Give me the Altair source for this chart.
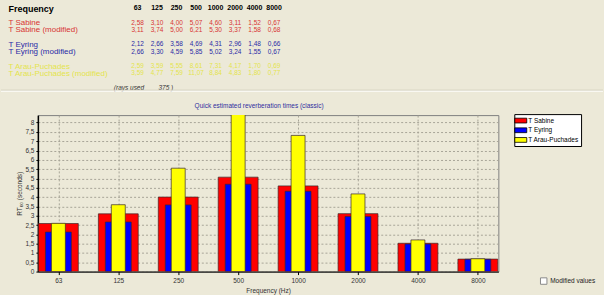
import altair as alt
import pandas as pd

# Octave-band centre frequencies (Hz)
FREQS = ["63", "125", "250", "500", "1000", "2000", "4000", "8000"]

# Reverberation times in seconds
T_SABINE = [2.58, 3.10, 4.00, 5.07, 4.60, 3.11, 1.52, 0.67]
T_SABINE_MOD = [3.11, 3.74, 5.00, 6.21, 5.30, 3.37, 1.58, 0.68]
T_EYRING = [2.12, 2.66, 3.58, 4.69, 4.31, 2.96, 1.48, 0.66]
T_EYRING_MOD = [2.66, 3.30, 4.59, 5.85, 5.02, 3.24, 1.55, 0.67]
T_ARAU = [2.59, 3.59, 5.55, 8.61, 7.31, 4.17, 1.70, 0.69]
T_ARAU_MOD = [3.59, 4.77, 7.59, 11.07, 8.84, 4.83, 1.80, 0.77]
RAYS_USED = 375

SERIES = ["T Sabine", "T Eyring", "T Arau-Puchades"]
SERIES_COLORS = ["#FF0000", "#0000FF", "#FFFF00"]
BAR_WIDTHS = [40, 26, 14]

FONT = "Liberation Sans"
BG = "#ECE9D8"
RED_TXT = "#D83434"
BLUE_TXT = "#2A2AA6"
YEL_TXT = "#E4E44C"
NBSP = "\u00a0"

# ---------------------------------------------------------------- table ----
# Row order of the summary table; whitespace-only entries are blank spacer rows
ROW_ORDER = [
    "Frequency", " ",
    "T Sabine", "T Sabine (modified)", "  ",
    "T Eyring", "T Eyring (modified)", "   ",
    "T Arau-Puchades", "T Arau-Puchades (modified)", "    ",
    "     ",
]
TABLE_ROWS = {
    "T Sabine": T_SABINE,
    "T Sabine (modified)": T_SABINE_MOD,
    "T Eyring": T_EYRING,
    "T Eyring (modified)": T_EYRING_MOD,
    "T Arau-Puchades": T_ARAU,
    "T Arau-Puchades (modified)": T_ARAU_MOD,
}
ROW_COLORS = [RED_TXT, RED_TXT, BLUE_TXT, BLUE_TXT, YEL_TXT, YEL_TXT]

table_df = pd.DataFrame(
    [{"row": r, "freq": f, "value": v}
     for r, vals in TABLE_ROWS.items() for f, v in zip(FREQS, vals)]
)
header_df = pd.DataFrame({"row": ["Frequency"] * len(FREQS), "freq": FREQS})
rays_df = pd.DataFrame({"row": ["     "], "freq": [FREQS[0]],
                        "txt": [f"(rays used{NBSP * 8}{RAYS_USED} )"]})

row_label_color = {
    "condition": [
        {"test": "indexof(datum.value, 'Sabine') >= 0", "value": RED_TXT},
        {"test": "indexof(datum.value, 'Eyring') >= 0", "value": BLUE_TXT},
        {"test": "indexof(datum.value, 'Arau') >= 0", "value": YEL_TXT},
    ],
    "value": "#000000",
}

# table columns sit to the right of the row-label column
t_x = alt.X("freq:N", sort=FREQS,
            scale=alt.Scale(type="point", domain=FREQS, range=[100, 237], padding=0),
            axis=None)
t_y = alt.Y(
    "row:N",
    scale=alt.Scale(type="point", domain=ROW_ORDER, padding=0.5),
    axis=alt.Axis(
        title=None, domain=False, ticks=False, grid=False,
        labelAlign="left", labelBaseline="middle", labelPadding=30,
        labelFont=FONT,
        labelFontSize={"condition": {"test": "datum.value === 'Frequency'", "value": 9},
                       "value": 8},
        labelFontWeight={"condition": {"test": "datum.value === 'Frequency'", "value": "bold"},
                         "value": "normal"},
        labelColor=row_label_color,
    ),
)

header_layer = alt.Chart(header_df).mark_text(
    font=FONT, fontSize=7, fontWeight="bold", color="#000000", baseline="middle"
).encode(x=t_x, y=t_y, text="freq:N")

values_layer = alt.Chart(table_df).transform_calculate(
    txt="replace(format(datum.value, '.2f'), '.', ',')"
).mark_text(font=FONT, fontSize=6.5, baseline="middle").encode(
    x=t_x, y=t_y, text="txt:N",
    color=alt.Color("row:N", scale=alt.Scale(domain=list(TABLE_ROWS), range=ROW_COLORS),
                    legend=None),
)

rays_layer = alt.Chart(rays_df).mark_text(
    font=FONT, fontSize=6.5, fontStyle="italic", color="#333333", baseline="middle", dx=6
).encode(x=t_x, y=t_y, text="txt:N")

# panel separator
sep_df = pd.DataFrame({"k": [0]})
sep_dark = alt.Chart(sep_df).mark_rule(color="#CFCBB8", strokeWidth=1).encode(
    x=alt.value(-37), x2=alt.value(567), y=alt.value(86))
sep_light = alt.Chart(sep_df).mark_rule(color="#FFFFFF", strokeWidth=1).encode(
    x=alt.value(-37), x2=alt.value(567), y=alt.value(87))

table = alt.layer(header_layer, values_layer, rays_layer, sep_dark, sep_light).properties(
    width=337, height=87.3, view=alt.ViewBackground(stroke="transparent")
)

# ---------------------------------------------------------------- bars -----
bars_df = pd.DataFrame({
    "freq": FREQS * 3,
    "series": [s for s in SERIES for _ in FREQS],
    "rt": T_SABINE + T_EYRING + T_ARAU,
})

GRID = "#A8A598"
b_x = alt.X(
    "freq:N", sort=FREQS,
    scale=alt.Scale(type="point", domain=FREQS, padding=0.342),
    axis=alt.Axis(
        title="Frequency (Hz)", labelAngle=0, grid=True, gridDash=[2, 2], gridColor=GRID,
        gridWidth=1, domainColor="#000000", domainWidth=1, tickColor="#000000",
        tickSize=3, labelPadding=3, labelFont=FONT, labelFontSize=6.5, labelColor="#333333",
        titleFont=FONT, titleFontSize=6.5, titleFontWeight="normal", titleColor="#333333",
        titlePadding=3,
    ),
)
b_y = alt.Y(
    "rt:Q", stack=None,
    scale=alt.Scale(domain=[0, 8.4], nice=False, zero=True),
    axis=alt.Axis(
        values=[i * 0.5 for i in range(17)], format="~g",
        labelExpr="replace(datum.label, '.', ',')",
        title="RT₆₀ (seconds)", grid=True, gridDash=[2, 2], gridColor=GRID, gridWidth=1,
        domainColor="#000000", domainWidth=1.5, tickColor="#000000", tickSize=2,
        labelPadding=2, labelFont=FONT, labelFontSize=6.5, labelColor="#333333",
        titleFont=FONT, titleFontSize=6.5, titleFontWeight="normal", titleColor="#333333",
        titlePadding=2,
    ),
)
b_color = alt.Color(
    "series:N",
    scale=alt.Scale(domain=SERIES, range=SERIES_COLORS),
    legend=alt.Legend(
        title=None, orient="none", legendX=478, legendY=-1,
        fillColor="#FFFFFF", strokeColor="#000000", padding=2, cornerRadius=0,
        symbolType="M-1.5,-0.6H1.5V0.6H-1.5Z", symbolSize=64,
        symbolStrokeColor="#000000", symbolStrokeWidth=0.8, symbolOpacity=1,
        labelFont=FONT, labelFontSize=6.5, labelColor="#000000", labelOffset=3,
        rowPadding=0.7,
    ),
)

bar_layers = [
    alt.Chart(bars_df).transform_filter(alt.datum.series == s).mark_bar(
        size=w, clip=True, stroke="#3A2A2A", strokeWidth=0.7, opacity=1
    ).encode(x=b_x, y=b_y, color=b_color)
    for s, w in zip(SERIES, BAR_WIDTHS)
]

# "Modified values" check box beside the plot
ui_df = pd.DataFrame({"label": ["Modified values"]})
checkbox = alt.Chart(ui_df).mark_square(
    size=42, filled=True, fill="#FFFFFF", stroke="#8A8A8A", strokeWidth=1, opacity=1
).encode(x=alt.value(507.5), y=alt.value(166.5))
checkbox_label = alt.Chart(ui_df).mark_text(
    font=FONT, fontSize=6.5, align="left", baseline="middle", color="#222222"
).encode(x=alt.value(514), y=alt.value(166.5), text="label:N")

bars = alt.layer(*bar_layers, checkbox, checkbox_label).properties(
    width=462, height=157,
    title=alt.TitleParams(
        "Quick estimated reverberation times (classic)", font=FONT, fontSize=6.5,
        fontWeight="normal", color="#2E2E9E", anchor="middle", offset=4, dx=-9,
    ),
)

chart = alt.vconcat(table, bars, spacing=9).resolve_scale(
    color="independent"
).resolve_legend(color="independent").properties(
    background=BG,
    padding={"left": 0, "top": 3, "right": 0, "bottom": 0},
).configure_view(stroke="#808080", strokeWidth=1)

chart.save("out.html", embed_options={"renderer": "svg", "actions": False})
